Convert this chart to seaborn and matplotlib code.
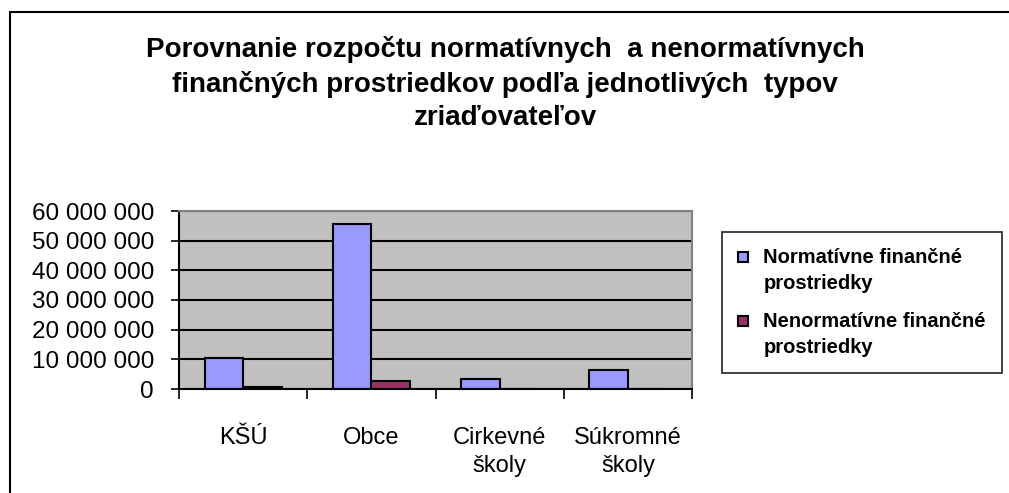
import matplotlib
matplotlib.use("Agg")
import matplotlib.pyplot as plt
import seaborn as sns
import pandas as pd
import numpy as np
from matplotlib.patches import Rectangle
from matplotlib.legend_handler import HandlerPatch
from matplotlib.ticker import FuncFormatter, FixedLocator

categories = ["KŠÚ", "Obce", "Cirkevné\nškoly", "Súkromné\nškoly"]
normativne = [10600000, 55600000, 3400000, 6400000]
nenormativne = [600000, 2800000, 100000, 100000]
series_names = ["Normatívne finančné\nprostriedky", "Nenormatívne finančné\nprostriedky"]
title = ("Porovnanie rozpočtu normatívnych  a nenormatívnych\n"
         "finančných prostriedkov podľa jednotlivých  typov\n"
         "zriaďovateľov")

sns.set_theme(style="white")
plt.rcParams["font.family"] = ["Liberation Sans", "DejaVu Sans"]
plt.rcParams["text.color"] = "black"
plt.rcParams["xtick.color"] = "black"
plt.rcParams["ytick.color"] = "black"
plt.rcParams["axes.labelcolor"] = "black"

df = pd.DataFrame({
    "cat": categories * 2,
    "val": normativne + nenormativne,
    "series": [series_names[0]] * 4 + [series_names[1]] * 4,
})

fig = plt.figure(figsize=(10.09, 4.93), dpi=100)
ax = fig.add_axes([179/1009, 1-389/493, (692-179)/1009, (389-211)/493])
ax.set_facecolor("#C0C0C0")

sns.barplot(data=df, x="cat", y="val", hue="series", order=categories,
            hue_order=series_names, palette=["#9999FF", "#993366"],
            width=0.6, gap=0, edgecolor="black", linewidth=1.5,
            saturation=1, ax=ax, legend=True, errorbar=None)

ax.set_ylim(0, 60000000)
ax.set_xlim(-0.5, 3.5)
ax.yaxis.set_major_locator(FixedLocator(np.arange(0, 60000001, 10000000)))
ax.yaxis.set_major_formatter(FuncFormatter(lambda v, p: f"{int(v):,}".replace(",", " ")))
ax.yaxis.grid(True, color="black", linewidth=1.5)
ax.set_axisbelow(True)
ax.tick_params(axis="y", which="major", direction="out", length=6, width=1.2,
               color="black", labelsize=17.5, pad=12, left=True, labelcolor="black")
ax.set_xticks(range(4))
ax.set_xticklabels(categories, fontsize=17, linespacing=1.36, va="top", color="black")
ax.tick_params(axis="x", which="major", length=0, pad=27)
ax.set_xticks([-0.5, 0.5, 1.5, 2.5, 3.5], minor=True)
ax.tick_params(axis="x", which="minor", direction="out", length=7, width=1.2,
               color="black", bottom=True)
ax.set_xlabel("")
ax.set_ylabel("")

for side in ["left", "bottom"]:
    ax.spines[side].set_color("black")
    ax.spines[side].set_linewidth(1.5)
for side in ["top", "right"]:
    ax.spines[side].set_color("#808080")
    ax.spines[side].set_linewidth(1.5)


def top_square(legend, orig_handle, xdescent, ydescent, width, height, fontsize):
    s = 0.5 * fontsize
    return Rectangle((-xdescent, -ydescent + 0.72 * fontsize), s, s)


handles, labels = ax.get_legend_handles_labels()
ax.get_legend().remove()
leg = fig.legend(handles, labels, loc="upper left",
                 bbox_to_anchor=(722/1009, 1-232/493), frameon=True,
                 fancybox=False, edgecolor="black", fontsize=14.5,
                 handlelength=0.5, handleheight=0.5, handletextpad=0.75,
                 labelspacing=0.95, borderpad=0.8, borderaxespad=0,
                 handler_map={matplotlib.patches.Rectangle: HandlerPatch(patch_func=top_square)})
leg.get_frame().set_linewidth(1.3)
for t in leg.get_texts():
    t.set_fontweight("bold")
    t.set_linespacing(1.45)
    t.set_color("black")

fig.text(505/1009, 1-36/493, title, ha="center", va="top", fontsize=20,
         fontweight="bold", linespacing=1.36, color="black")

fig.add_artist(Rectangle((10/1009, -0.1), 1.2, 1-12/493 + 0.1,
                         transform=fig.transFigure, fill=False,
                         edgecolor="black", linewidth=1.5))

fig.savefig("out.png", dpi=100, facecolor="white")
